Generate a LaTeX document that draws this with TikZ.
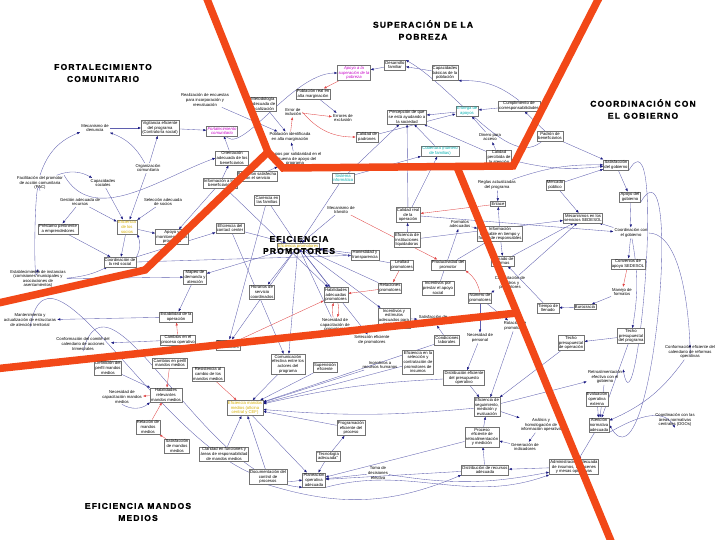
\documentclass[tikz,border=0pt]{standalone}
\usepackage{fontspec}
\setsansfont{Liberation Sans}
\newfontfamily\regionfont[LetterSpace=14, BoldFeatures={FakeBold=1.2}]{Liberation Sans}
\usepackage{tikz}
\usetikzlibrary{arrows.meta, backgrounds}

\definecolor{linkc}{RGB}{95,95,175}
\definecolor{tipc}{RGB}{25,25,130}
\definecolor{rlinkc}{RGB}{225,70,70}
\definecolor{divc}{RGB}{242,72,24}
\definecolor{magc}{RGB}{200,0,200}
\definecolor{cyanc}{RGB}{0,175,175}
\definecolor{yelc}{RGB}{215,175,0}

\tikzstyle{boxnode} = [draw=black!55, fill=white, line width=0.4pt, inner sep=1pt,
  align=center, font=\sffamily\fontsize{4.2}{4.6}\selectfont]
\tikzstyle{plainnode} = [inner sep=1pt, align=center, font=\sffamily\fontsize{4.2}{4.6}\selectfont]
\tikzstyle{lnk} = [draw=linkc, line width=0.35pt, -{Latex[length=3pt,width=2.4pt,color=tipc]}]
\tikzstyle{rlnk} = [draw=rlinkc, line width=0.35pt, -{Latex[length=3pt,width=2.4pt]}]
\tikzstyle{divider} = [draw=divc, line width=7.5pt, line join=miter]
\tikzstyle{region} = [align=center, font=\regionfont\bfseries\fontsize{8.5}{12}\selectfont]

\begin{document}
\begin{tikzpicture}[x=1pt, y=-1pt]

  \useasboundingbox (0,0) rectangle (720,540);

  \node[plainnode] (denuncia) at (95,128) {Mecanismo de\\denuncia};
  \node[boxnode] (vigila) at (160,128) {Vigilancia eficiente\\del programa\\(Contraloría social)};
  \node[plainnode] (encuestas) at (205,100) {Realización de encuestas\\para incorporación y\\reevaluación};
  \node[boxnode] (metodo) at (263,104) {Metodología\\adecuada de\\focalización};
  \node[boxnode, text=magc] (comunidad) at (222,131) {\itshape Fortalecimiento\\\itshape comunitario};
  \node[boxnode] (orientacion) at (232,158) {Orientación\\adecuada de los\\beneficiarios};
  \node[boxnode] (informa) at (220,183) {Información a los\\beneficiarios};
  \node[boxnode] (satisf) at (257,176) {Población satisfecha\\con el servicio};
  \node[plainnode] (orgcom) at (148,168) {Organización\\comunitaria};
  \node[plainnode] (facil) at (40,183) {Facilitación del promotor\\de acción comunitaria\\(PAC)};
  \node[plainnode] (capsoc) at (103,183) {Capacidades\\sociales};
  \node[plainnode] (gestion) at (80,202) {Gestión adecuada de\\recursos};
  \node[plainnode] (selsoc) at (163,202) {Selección adecuada\\de socios};
  \node[boxnode, text=yelc] (efsocios) at (127,227) {Eficiencia\\de los\\socios};
  \node[boxnode] (prestamo) at (58,229) {Préstamo pertinente\\a emprendedores};
  \node[boxnode] (apoyomon) at (172,237) {Apoyo y\\monitoreo de los\\proyectos};
  \node[boxnode] (coordred) at (120,262) {Coordinación de\\la red social};
  \node[plainnode] (establec) at (38,279) {Establecimiento de instancias\\(comisiones municipales y\\asociaciones de\\asentamientos)};

  \node[boxnode, text=cyanc] (sistinf) at (343,178) {Sistema\\informático};
  \node[boxnode] (carencia) at (267,200) {Carencia en\\las familias};
  \node[boxnode] (contact) at (230,228) {Eficiencia del\\contact center};
  \node[plainnode] (transito) at (341,210) {Mecanismo de\\tránsito};
  \node[boxnode, text=yelc] (efprom) at (298,246) {Eficiencia promotores};
  \node[boxnode] (mapeo) at (195,277) {Mapeo de\\demanda y\\atención};
  \node[boxnode] (horarios) at (262,292) {Horarios de\\servicio\\coordinados};
  \node[boxnode] (habprom) at (336,295) {Habilidades\\adecuadas\\promotores};
  \node[plainnode] (necprom) at (335,325) {Necesidad de\\capacitación de\\promotores};
  \node[boxnode] (estab) at (176,317) {Estabilidad de la\\operación};
  \node[boxnode] (cambproc) at (178,340) {Cambios en el\\proceso operativo};
  \node[boxnode] (cambprom) at (228,345) {Cambios de\\promotores};
  \node[plainnode] (comite) at (83,344) {Conformación del comité del\\calendario de acciones\\trimestrales};
  \node[plainnode] (manten) at (30,320) {Mantenimiento y\\actualización de estructuras\\de atención territorial};
  \node[boxnode] (comunic) at (288,364) {Comunicación\\efectiva entre los\\actores del\\programa};

  \node[boxnode, text=magc] (apoyosup) at (354,73) {\itshape Apoyo a la\\\itshape superación de la\\\itshape pobreza};
  \node[boxnode] (poblreal) at (313,94) {Población real en\\alta marginación};
  \node[plainnode] (errinc) at (293,112) {Error de\\inclusión};
  \node[plainnode] (errexc) at (343,118) {Errores de\\exclusión};
  \node[plainnode] (poblid) at (290,137) {Población identificada\\en alta marginación};
  \node[plainnode] (grupos) at (295,159) {Grupos por solidaridad en el\\esquema de apoyo del\\programa};
  \node[boxnode] (desfam) at (395,65) {Desarrollo\\familiar};
  \node[boxnode] (capbas) at (445,73) {Capacidades\\básicas de la\\población};
  \node[boxnode] (percep) at (407,117) {Percepción de que\\se está ayudando a\\la sociedad};
  \node[boxnode, text=cyanc] (entrega) at (467,111) {Entrega de\\apoyos};
  \node[boxnode] (cumpl) at (519,106) {Cumplimiento de\\corresponsabilidades};
  \node[boxnode] (calpad) at (367,137) {Calidad de\\padrones};
  \node[boxnode, text=cyanc] (cobert) at (440,151) {Cobertura (número\\de familias)};
  \node[plainnode] (dinero) at (490,137) {Dinero para\\acceso};
  \node[boxnode] (calperc) at (499,157) {Calidad\\percibida de\\la atención};
  \node[boxnode] (padron) at (550,136) {Padrón de\\beneficiarios};

  \node[boxnode] (satgob) at (616,165) {Satisfacción\\del gobierno};
  \node[plainnode] (reglas) at (497,185) {Reglas actualizadas\\del programa};
  \node[boxnode] (mercado) at (555,185) {Mercado\\público};
  \node[boxnode] (apoyogob) at (630,197) {Apoyo del\\gobierno};
  \node[boxnode] (enlace) at (498,204) {Enlace};
  \node[boxnode] (calreal) at (408,215) {Calidad real\\de la\\operación};
  \node[plainnode] (formatos) at (460,224) {Formatos\\adecuados};
  \node[boxnode] (infocon) at (500,234) {Información\\confiable en tiempo y\\forma de responsables};
  \node[boxnode] (instliq) at (407,240) {Eficiencia de\\instituciones\\liquidadoras};
  \node[boxnode] (llenado) at (503,261) {Llenado de\\formas};
  \node[boxnode] (sedesol) at (583,218) {Mecanismos en los\\servicios SEDESOL};
  \node[plainnode] (coordgob) at (631,233) {Coordinación con\\el gobierno};
  \node[boxnode] (convenios) at (628,264) {Convenios de\\apoyo SEDESOL};
  \node[plainnode] (manejo) at (622,292) {Manejo de\\formatos};
  \node[boxnode] (burocracia) at (585,307) {Burocracia};
  \node[boxnode] (tllenado) at (548,308) {Tiempo de\\llenado};
  \node[boxnode] (techoprog) at (631,336) {Techo\\presupuestal\\del programa};
  \node[boxnode] (techoop) at (571,343) {Techo\\presupuestal\\de operación};
  \node[plainnode] (calend) at (690,352) {Conformación eficiente del\\calendario de reformas\\operativas};
  \node[plainnode] (capcuad) at (510,283) {Capacitación de\\cuadros y\\promotores};

  \node[boxnode] (honest) at (365,255) {Honestidad y\\transparencia};
  \node[boxnode] (lealtad) at (402,265) {Lealtad\\promotores};
  \node[boxnode] (product) at (448,265) {Productividad del\\promotor};
  \node[boxnode] (relac) at (390,288) {Relaciones\\promotores};
  \node[boxnode] (incpres) at (438,288) {Incentivos por\\prestar el apoyo\\social};
  \node[boxnode] (numprom) at (480,298) {Número de\\promotores};
  \node[boxnode] (incest) at (394,318) {Incentivos y\\estímulos\\adecuados para\\promotores};
  \node[plainnode] (satisf2) at (433,320) {Satisfacción de\\promotores};
  \node[plainnode] (rotac) at (515,326) {Rotación de\\promotores};
  \node[plainnode] (selprom) at (372,340) {Selección eficiente\\de promotores};
  \node[boxnode] (condlab) at (447,340) {Condiciones\\laborales};
  \node[plainnode] (necpers) at (480,338) {Necesidad de\\personal};

  \node[boxnode] (supervis) at (325,367) {Supervisión\\eficiente};
  \node[plainnode] (incrh) at (380,365) {Incentivos a\\recursos humanos};
  \node[boxnode] (selcont) at (418,362) {Eficiencia en la\\selección y\\contratación de\\promotores de\\insumos};
  \node[boxnode] (distpres) at (464,378) {Distribución eficiente\\del presupuesto\\operativo};
  \node[boxnode] (efseg) at (487,407) {Eficiencia de\\seguimiento,\\medición y\\evaluación};
  \node[boxnode] (procef) at (482,437) {Proceso\\eficiente de\\retroalimentación\\y medición};
  \node[boxnode] (distrec) at (485,470) {Distribución de recursos\\adecuada};
  \node[plainnode] (analisis) at (541,425) {Análisis y\\homologación de\\información operativa};
  \node[plainnode] (genind) at (525,447) {Generación de\\indicadores};
  \node[plainnode] (retro) at (605,377) {Retroalimentación\\efectiva con el\\gobierno};
  \node[boxnode] (evalop) at (597,399) {Evaluación\\operativa\\externa};
  \node[boxnode] (atnorm) at (599,425) {Atención\\normativa\\adecuada};
  \node[plainnode] (areasnorm) at (675,420) {Coordinación con las\\áreas normativas\\centrales (DGOs)};
  \node[boxnode] (admin) at (574,467) {Administración adecuada\\de insumos, almacenes\\y mesas operativas};

  \node[boxnode] (resist) at (208,374) {Resistencia al\\cambio de los\\mandos medios};
  \node[boxnode, text=yelc] (efmandos) at (245,408) {Eficiencia mandos\\medios (oficina\\central y CEF)};
  \node[boxnode] (claridad) at (224,454) {Claridad en funciones y\\áreas de responsabilidad\\de mandos medios};
  \node[boxnode] (document) at (268,477) {Documentación del\\control de\\procesos};
  \node[boxnode] (planop) at (314,480) {Planeación\\operativa\\adecuada};
  \node[boxnode] (tecno) at (328,456) {“Tecnología\\adecuada”};
  \node[boxnode] (registro) at (351,428) {Programación\\eficiente del\\proceso};
  \node[plainnode] (toma) at (378,473) {Toma de\\decisiones\\efectiva};
  \node[boxnode] (defperf) at (108,368) {Definición del\\perfil mandos\\medios};
  \node[boxnode] (cambperf) at (170,363) {Cambios en perfil\\mandos medios};
  \node[boxnode] (habmm) at (166,395) {Habilidades\\relevantes\\mandos medios};
  \node[plainnode] (necmm) at (122,397) {Necesidad de\\capacitación mandos\\medios};
  \node[boxnode] (relmm) at (148,427) {Relación de\\mandos\\medios};
  \node[boxnode] (satmm) at (177,446) {Satisfacción\\de mandos\\medios};

  \begin{scope}[on background layer]
    \fill[white] (0,0) rectangle (720,540);

    \draw[lnk] (denuncia) -- (vigila);
    \draw[lnk] (facil.north) to[bend left=25] (denuncia);
    \draw[lnk] (orgcom) to[bend right=20] (denuncia);
    \draw[lnk] (orgcom) -- (vigila);
    \draw[lnk] (vigila) -- (comunidad);
    \draw[lnk] (orientacion) -- (comunidad);
    \draw[lnk] (encuestas) -- (poblid);
    \draw[lnk] (metodo) -- (poblid);
    \draw[lnk] (comunidad.north) to[out=-80,in=180] (apoyosup.west);
    \draw[lnk] (facil.north east) to[out=-60,in=-160] (orientacion.west);
    \draw[lnk] (facil) to[bend left=25] (capsoc);
    \draw[lnk] (facil.south) to[out=100,in=-100] (establec.north);
    \draw[lnk] (capsoc) -- (efsocios);
    \draw[lnk] (gestion) -- (efsocios);
    \draw[lnk] (gestion) -- (prestamo);
    \draw[lnk] (selsoc) -- (efsocios);
    \draw[lnk] (efsocios) -- (apoyomon);
    \draw[lnk] (prestamo) -- (coordred);
    \draw[lnk] (efsocios) -- (coordred);
    \draw[lnk] (establec) to[bend right=10] (coordred);
    \draw[lnk] (coordred.north east) to[bend right=25] (efsocios.south east);
    \draw[lnk] (informa) -- (orientacion);
    \draw[lnk] (informa) -- (apoyomon);
    \draw[lnk] (orgcom) -- (efsocios);
    \draw[lnk] (grupos) -- (poblid);
    \draw[lnk] (satisf) -- (grupos);

    \draw[rlnk] (poblid) -- (errinc);
    \draw[rlnk] (errinc) -- (errexc);
    \draw[rlnk] (errinc.east) to[bend right=25] (calpad.west);
    \draw[lnk] (poblreal) -- (errexc);
    \draw[rlnk] (apoyosup) -- (poblreal);
    \draw[lnk] (desfam) -- (apoyosup);
    \draw[lnk] (capbas) -- (desfam);
    \draw[lnk] (cumpl.north) to[bend right=20] (capbas.south east);
    \draw[lnk] (entrega) -- (percep);
    \draw[lnk] (cumpl) -- (entrega);
    \draw[lnk] (dinero) -- (entrega);
    \draw[lnk] (calperc) -- (dinero);
    \draw[lnk] (cobert) -- (percep);
    \draw[lnk] (calpad) -- (entrega);
    \draw[lnk] (calperc) -- (percep);
    \draw[lnk] (padron.north) to[out=-120,in=-30] (desfam.north east);
    \draw[lnk] (sistinf) -- (percep);
    \draw[lnk] (sistinf) -- (cobert);
    \draw[lnk] (calreal) -- (percep);
    \draw[lnk] (calreal) -- (cobert);
    \draw[lnk] (padron) -- (cumpl);

    \draw[lnk] (calperc) to[bend right=10] (satgob);
    \draw[lnk] (padron) -- (satgob);
    \draw[lnk] (mercado) -- (satgob);
    \draw[lnk] (reglas) to[bend left=10] (satgob);
    \draw[lnk] (satgob) -- (apoyogob);
    \draw[lnk] (apoyogob) -- (coordgob);
    \draw[lnk] (coordgob) -- (convenios);
    \draw[lnk] (coordgob) -- (sedesol);
    \draw[rlnk] (convenios) -- (manejo);
    \draw[lnk] (manejo) -- (burocracia);
    \draw[lnk] (burocracia) -- (tllenado);
    \draw[lnk] (techoprog) -- (techoop);
    \draw[lnk] (coordgob.east) to[out=0,in=-90] (calend.north);
    \draw[lnk] (coordgob) to[bend left=10] (techoprog);
    \draw[lnk] (llenado) -- (sedesol);
    \draw[lnk] (infocon) -- (enlace);
    \draw[lnk] (formatos) -- (infocon);
    \draw[lnk] (infocon) -- (llenado);
    \draw[lnk] (instliq) -- (calreal);
    \draw[rlnk] (enlace) -- (calreal);
    \draw[lnk] (reglas) -- (enlace);
    \draw[lnk] (mercado) -- (sedesol);
    \draw[lnk] (capcuad) -- (sedesol);
    \draw[lnk] (tllenado) -- (llenado);
    \draw[lnk] (satgob.south east) to[out=60,in=-80] (retro.north east);
    \draw[lnk] (apoyogob.south east) to[out=60,in=-60] (atnorm.east);
    \draw[lnk] (calreal) -- (coordgob);
    \draw[lnk] (instliq) -- (sedesol);

    \draw[lnk] (carencia) -- (efprom);
    \draw[lnk] (contact) -- (efprom);
    \draw[lnk] (transito) -- (efprom);
    \draw[lnk] (efprom) -- (mapeo);
    \draw[lnk] (efprom) -- (horarios);
    \draw[lnk] (efprom) -- (habprom);
    \draw[lnk] (necprom) -- (efprom);
    \draw[lnk] (efprom) -- (cambprom);
    \draw[lnk] (efprom) -- (comunic);
    \draw[lnk] (honest) -- (efprom);
    \draw[lnk] (efprom) -- (selprom);
    \draw[lnk] (efprom) -- (incest);
    \draw[lnk] (sistinf) -- (efprom);
    \draw[lnk] (informa) -- (habprom);
    \draw[lnk] (contact) -- (comunic);
    \draw[lnk] (carencia) -- (cambprom);
    \draw[lnk] (coordred) -- (contact);
    \draw[lnk] (establec) -- (mapeo);
    \draw[lnk] (coordred.east) -- (honest);
    \draw[lnk] (mapeo) -- (estab);
    \draw[lnk] (lealtad) -- (efprom);
    \draw[lnk] (relac) -- (efprom);
    \draw[rlnk] (habprom) to[bend left=15] (necprom);
    \draw[rlnk] (necprom) to[bend left=15] (habprom);
    \draw[rlnk] (cambprom) -- (habprom);
    \draw[rlnk] (relac) -- (habprom);
    \draw[rlnk] (numprom.north) to[bend right=20] (product.south east);
    \draw[rlnk] (lealtad) -- (relac);
    \draw[rlnk] (transito) -- (product);
    \draw[lnk] (numprom) -- (necpers);
    \draw[lnk] (numprom) -- (rotac);
    \draw[lnk] (incpres) -- (formatos);
    \draw[lnk] (condlab) -- (satisf2);
    \draw[lnk] (product) -- (infocon);
    \draw[lnk] (incest) -- (satisf2);
    \draw[rlnk] (cambproc) -- (estab);
    \draw[lnk] (estab) -- (manten);
    \draw[lnk] (cambproc) -- (comite);
    \draw[lnk] (capcuad) -- (numprom);

    \draw[lnk] (defperf) -- (habmm);
    \draw[rlnk] (cambperf) -- (habmm);
    \draw[rlnk] (habmm) -- (necmm);
    \draw[lnk] (necmm.south) to[bend right=35] (habmm.south west);
    \draw[rlnk] (relmm) -- (habmm);
    \draw[rlnk] (satmm) -- (relmm);
    \draw[rlnk] (resist) -- (efmandos);
    \draw[lnk] (supervis) -- (efmandos);
    \draw[lnk] (comunic) -- (efmandos);
    \draw[lnk] (claridad) -- (efmandos);
    \draw[lnk] (document) -- (efmandos);
    \draw[lnk] (efmandos) -- (planop);
    \draw[lnk] (tecno) -- (planop);
    \draw[lnk] (tecno) -- (registro);
    \draw[lnk] (registro) -- (efmandos);
    \draw[lnk] (incrh) -- (efmandos);
    \draw[lnk] (selcont) -- (efmandos);
    \draw[lnk] (distpres) to[bend right=5] (efmandos);
    \draw[lnk] (efseg) to[bend left=5] (efmandos);
    \draw[lnk] (procef) -- (efseg);
    \draw[lnk] (genind) -- (procef);
    \draw[lnk] (distrec) -- (procef);
    \draw[lnk] (efseg) -- (analisis);
    \draw[lnk] (analisis) -- (genind);
    \draw[lnk] (distpres) -- (efseg);
    \draw[lnk] (techoop) -- (efseg);
    \draw[lnk] (evalop) -- (atnorm);
    \draw[lnk] (retro) -- (atnorm);
    \draw[lnk] (atnorm) -- (admin);
    \draw[lnk] (atnorm.south east) to[out=30,in=120] (areasnorm.south);
    \draw[lnk] (calend) to[bend left=15] (atnorm);
    \draw[lnk] (techoprog) -- (atnorm);
    \draw[lnk] (toma) to[bend right=10] (admin);
    \draw[lnk] (efseg) -- (retro);
    \draw[lnk] (manten.south) to[out=80,in=190] (planop.west);
    \draw[lnk] (comite.south) to[out=75,in=175] (planop.south west);
    \draw[lnk] (distrec) -- (planop);
    \draw[lnk] (toma) -- (planop);
    \draw[lnk] (procef) -- (planop);
    \draw[lnk] (planop.south east) to[out=15,in=200] (admin.south west);
    \draw[lnk] (document.south) to[bend right=20] (distrec.south west);
    \draw[lnk] (condlab) -- (efmandos);
    \draw[lnk] (necpers) -- (distpres);
    \draw[lnk] (rotac) -- (efseg);
    \draw[lnk] (admin) -- (distrec);
  \end{scope}

  \coordinate (d1) at (205,-6);
  \coordinate (d2) at (268,152);
  \coordinate (d3) at (283,168);
  \coordinate (d4) at (513,166);
  \coordinate (d5) at (601,-6);
  \coordinate (d6) at (145,270);
  \coordinate (d7) at (-6,304);
  \coordinate (d8) at (457,167);
  \coordinate (d9) at (517,313);
  \coordinate (d10) at (613,546);
  \coordinate (d11) at (-6,369);

  \draw[divider] (d1) -- (d2) -- (d3) -- (d4) -- (d5);
  \draw[divider] (d2) -- (d6) -- (d7);
  \draw[divider] (d8) -- (d9) -- (d10);
  \draw[divider] (d11) -- (d9);

  \node[region] (tsup) at (423,30) {SUPERACIÓN DE LA\\POBREZA};
  \node[region] (tfort) at (103,73) {FORTALECIMIENTO\\COMUNITARIO};
  \node[region] (tcoord) at (643,109) {COORDINACIÓN CON\\EL GOBIERNO};
  \node[region] (tprom) at (299,245) {EFICIENCIA\\PROMOTORES};
  \node[region] (tmandos) at (138,512) {EFICIENCIA MANDOS\\MEDIOS};

\end{tikzpicture}
\end{document}
